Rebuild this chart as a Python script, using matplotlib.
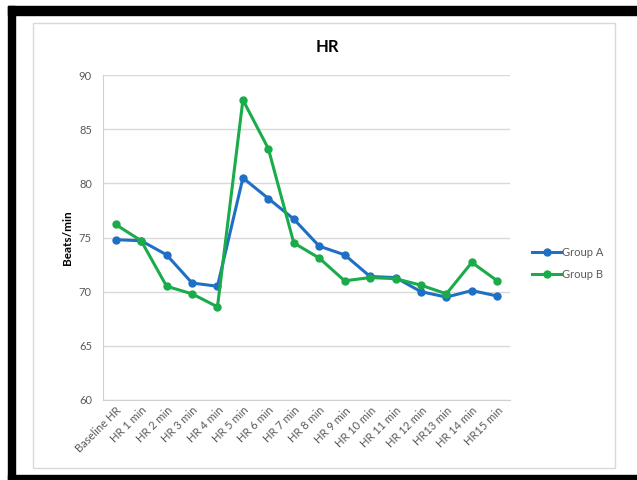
import matplotlib.pyplot as plt
from matplotlib.patches import Rectangle

plt.rcParams['font.family'] = ['Lato', 'DejaVu Sans']

labels = ['Baseline HR', 'HR 1 min', 'HR 2 min', 'HR 3 min', 'HR 4 min', 'HR 5 min',
          'HR 6 min', 'HR 7 min', 'HR 8 min', 'HR 9 min', 'HR 10 min', 'HR 11 min',
          'HR 12 min', 'HR13 min', 'HR 14 min', 'HR15 min']
group_a = [74.8, 74.7, 73.4, 70.8, 70.5, 80.5, 78.6, 76.7, 74.2, 73.4, 71.4, 71.3,
           70.0, 69.5, 70.1, 69.6]
group_b = [76.2, 74.7, 70.5, 69.8, 68.6, 87.7, 83.2, 74.5, 73.1, 71.0, 71.3, 71.2,
           70.6, 69.8, 72.7, 71.0]

W, H = 637, 480
fig = plt.figure(figsize=(W / 100, H / 100), dpi=100)

# black frame around the pasted chart (cut off on the right)
for x0, y0, w, h in [(8, 6, W - 8, 9), (8, 6, 7, H - 6), (8, 475, W - 8, 5)]:
    fig.patches.append(Rectangle((x0 / W, 1 - (y0 + h) / H), w / W, h / H,
                                 transform=fig.transFigure, color='black', zorder=0))
# chart area border
fig.patches.append(Rectangle((33 / W, 1 - 468 / H), (615 - 33) / W, (468 - 23) / H,
                             transform=fig.transFigure, fill=False,
                             edgecolor='#d9d9d9', lw=1, zorder=1))

ax = fig.add_axes([103 / W, 80 / H, (510 - 103) / W, (400 - 75) / H])
x = list(range(len(labels)))
ax.plot(x, group_a, color='#1f6fc4', lw=2.2, marker='o', ms=5, label='Group A', zorder=3)
ax.plot(x, group_b, color='#1aab4a', lw=2.2, marker='o', ms=5, label='Group B', zorder=3)

ax.set_xlim(-0.5, len(labels) - 0.5)
ax.set_ylim(60, 90)
ax.set_yticks(range(60, 91, 5))
ax.yaxis.grid(True, color='#d9d9d9', lw=1)
ax.set_axisbelow(True)
for s in ['top', 'right']:
    ax.spines[s].set_visible(False)
ax.spines['left'].set_color('#d0d0d0')
ax.spines['bottom'].set_color('#d0d0d0')
ax.tick_params(length=0, colors='#595959', labelsize=8)
ax.tick_params(axis='y', pad=8)
ax.set_xticks(x)
ax.set_xticklabels(labels, rotation=45, ha='right', rotation_mode='anchor')

ax.set_ylabel('Beats/min', fontsize=8.5, fontweight='bold', color='black', labelpad=4)
fig.text(327 / W, 1 - 47 / H, 'HR', ha='center', va='center',
         fontsize=12, fontweight='bold')

ax.legend(loc='center left', bbox_to_anchor=(1.03, 0.42), frameon=False,
          fontsize=8, labelcolor='#595959', handlelength=2.6, handletextpad=0.1,
          labelspacing=1.0)

fig.savefig('out.png', dpi=100)
